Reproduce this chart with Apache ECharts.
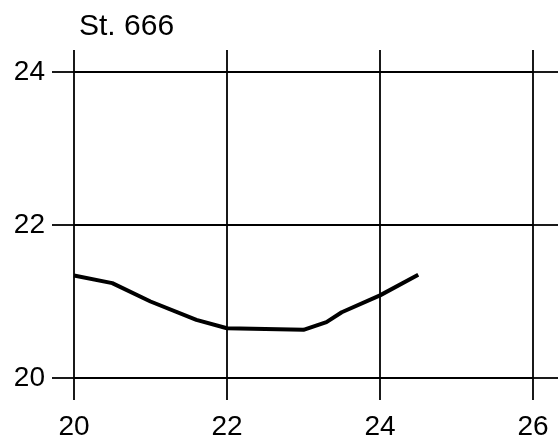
<!DOCTYPE html>
<html>
<head>
<meta charset="utf-8">
<script src="https://cdn.jsdelivr.net/npm/echarts@6/dist/echarts.min.js"></script>
<style>html,body{margin:0;padding:0;background:#fff}#c{width:558px;height:441px}</style>
</head>
<body>
<div id="c"></div>
<script>
var titleText = 'St. 666';
var xValues = [20, 20.5, 21, 21.6, 22, 23, 23.3, 23.5, 24, 24.5];
var yValues = [21.34, 21.24, 21.0, 20.76, 20.65, 20.63, 20.73, 20.86, 21.08, 21.35];
var xTicks = [20, 22, 24, 26];
var yTicks = [20, 22, 24];

var font = 'Liberation Sans, Arial, sans-serif';
var chart = echarts.init(document.getElementById('c'), null, {renderer: 'canvas'});
var lineStyle = {color: '#000', width: 1.8};
chart.setOption({
  animation: false,
  backgroundColor: '#fff',
  title: {
    text: titleText, left: 74, top: 7,
    textStyle: {fontFamily: font, fontSize: 30, fontWeight: 'normal', color: '#000'}
  },
  grid: {left: 74, right: 25, top: 72, bottom: 63},
  xAxis: [{
    type: 'value', min: xTicks[0], max: xTicks[xTicks.length - 1], interval: 2,
    position: 'bottom',
    axisLine: {show: false},
    axisTick: {show: true, length: 22, lineStyle: lineStyle},
    splitLine: {show: true, lineStyle: lineStyle},
    axisLabel: {fontFamily: font, fontSize: 28, color: '#000', margin: 35}
  }, {
    type: 'value', min: xTicks[0], max: xTicks[xTicks.length - 1], interval: 2,
    position: 'top',
    axisLine: {show: false},
    axisTick: {show: true, length: 22, lineStyle: lineStyle},
    splitLine: {show: false},
    axisLabel: {show: false}
  }],
  yAxis: [{
    type: 'value', min: yTicks[0], max: yTicks[yTicks.length - 1], interval: 2,
    position: 'left',
    axisLine: {show: false},
    axisTick: {show: true, length: 22, lineStyle: lineStyle},
    splitLine: {show: true, lineStyle: lineStyle},
    axisLabel: {fontFamily: font, fontSize: 28, color: '#000', margin: 29}
  }, {
    type: 'value', min: yTicks[0], max: yTicks[yTicks.length - 1], interval: 2,
    position: 'right',
    axisLine: {show: false},
    axisTick: {show: true, length: 25, lineStyle: lineStyle},
    splitLine: {show: false},
    axisLabel: {show: false}
  }],
  series: [{
    type: 'line',
    xAxisIndex: 0, yAxisIndex: 0,
    data: xValues.map(function (x, i) { return [x, yValues[i]]; }),
    showSymbol: false,
    lineStyle: {color: '#000', width: 4}
  }]
});
</script>
</body>
</html>
